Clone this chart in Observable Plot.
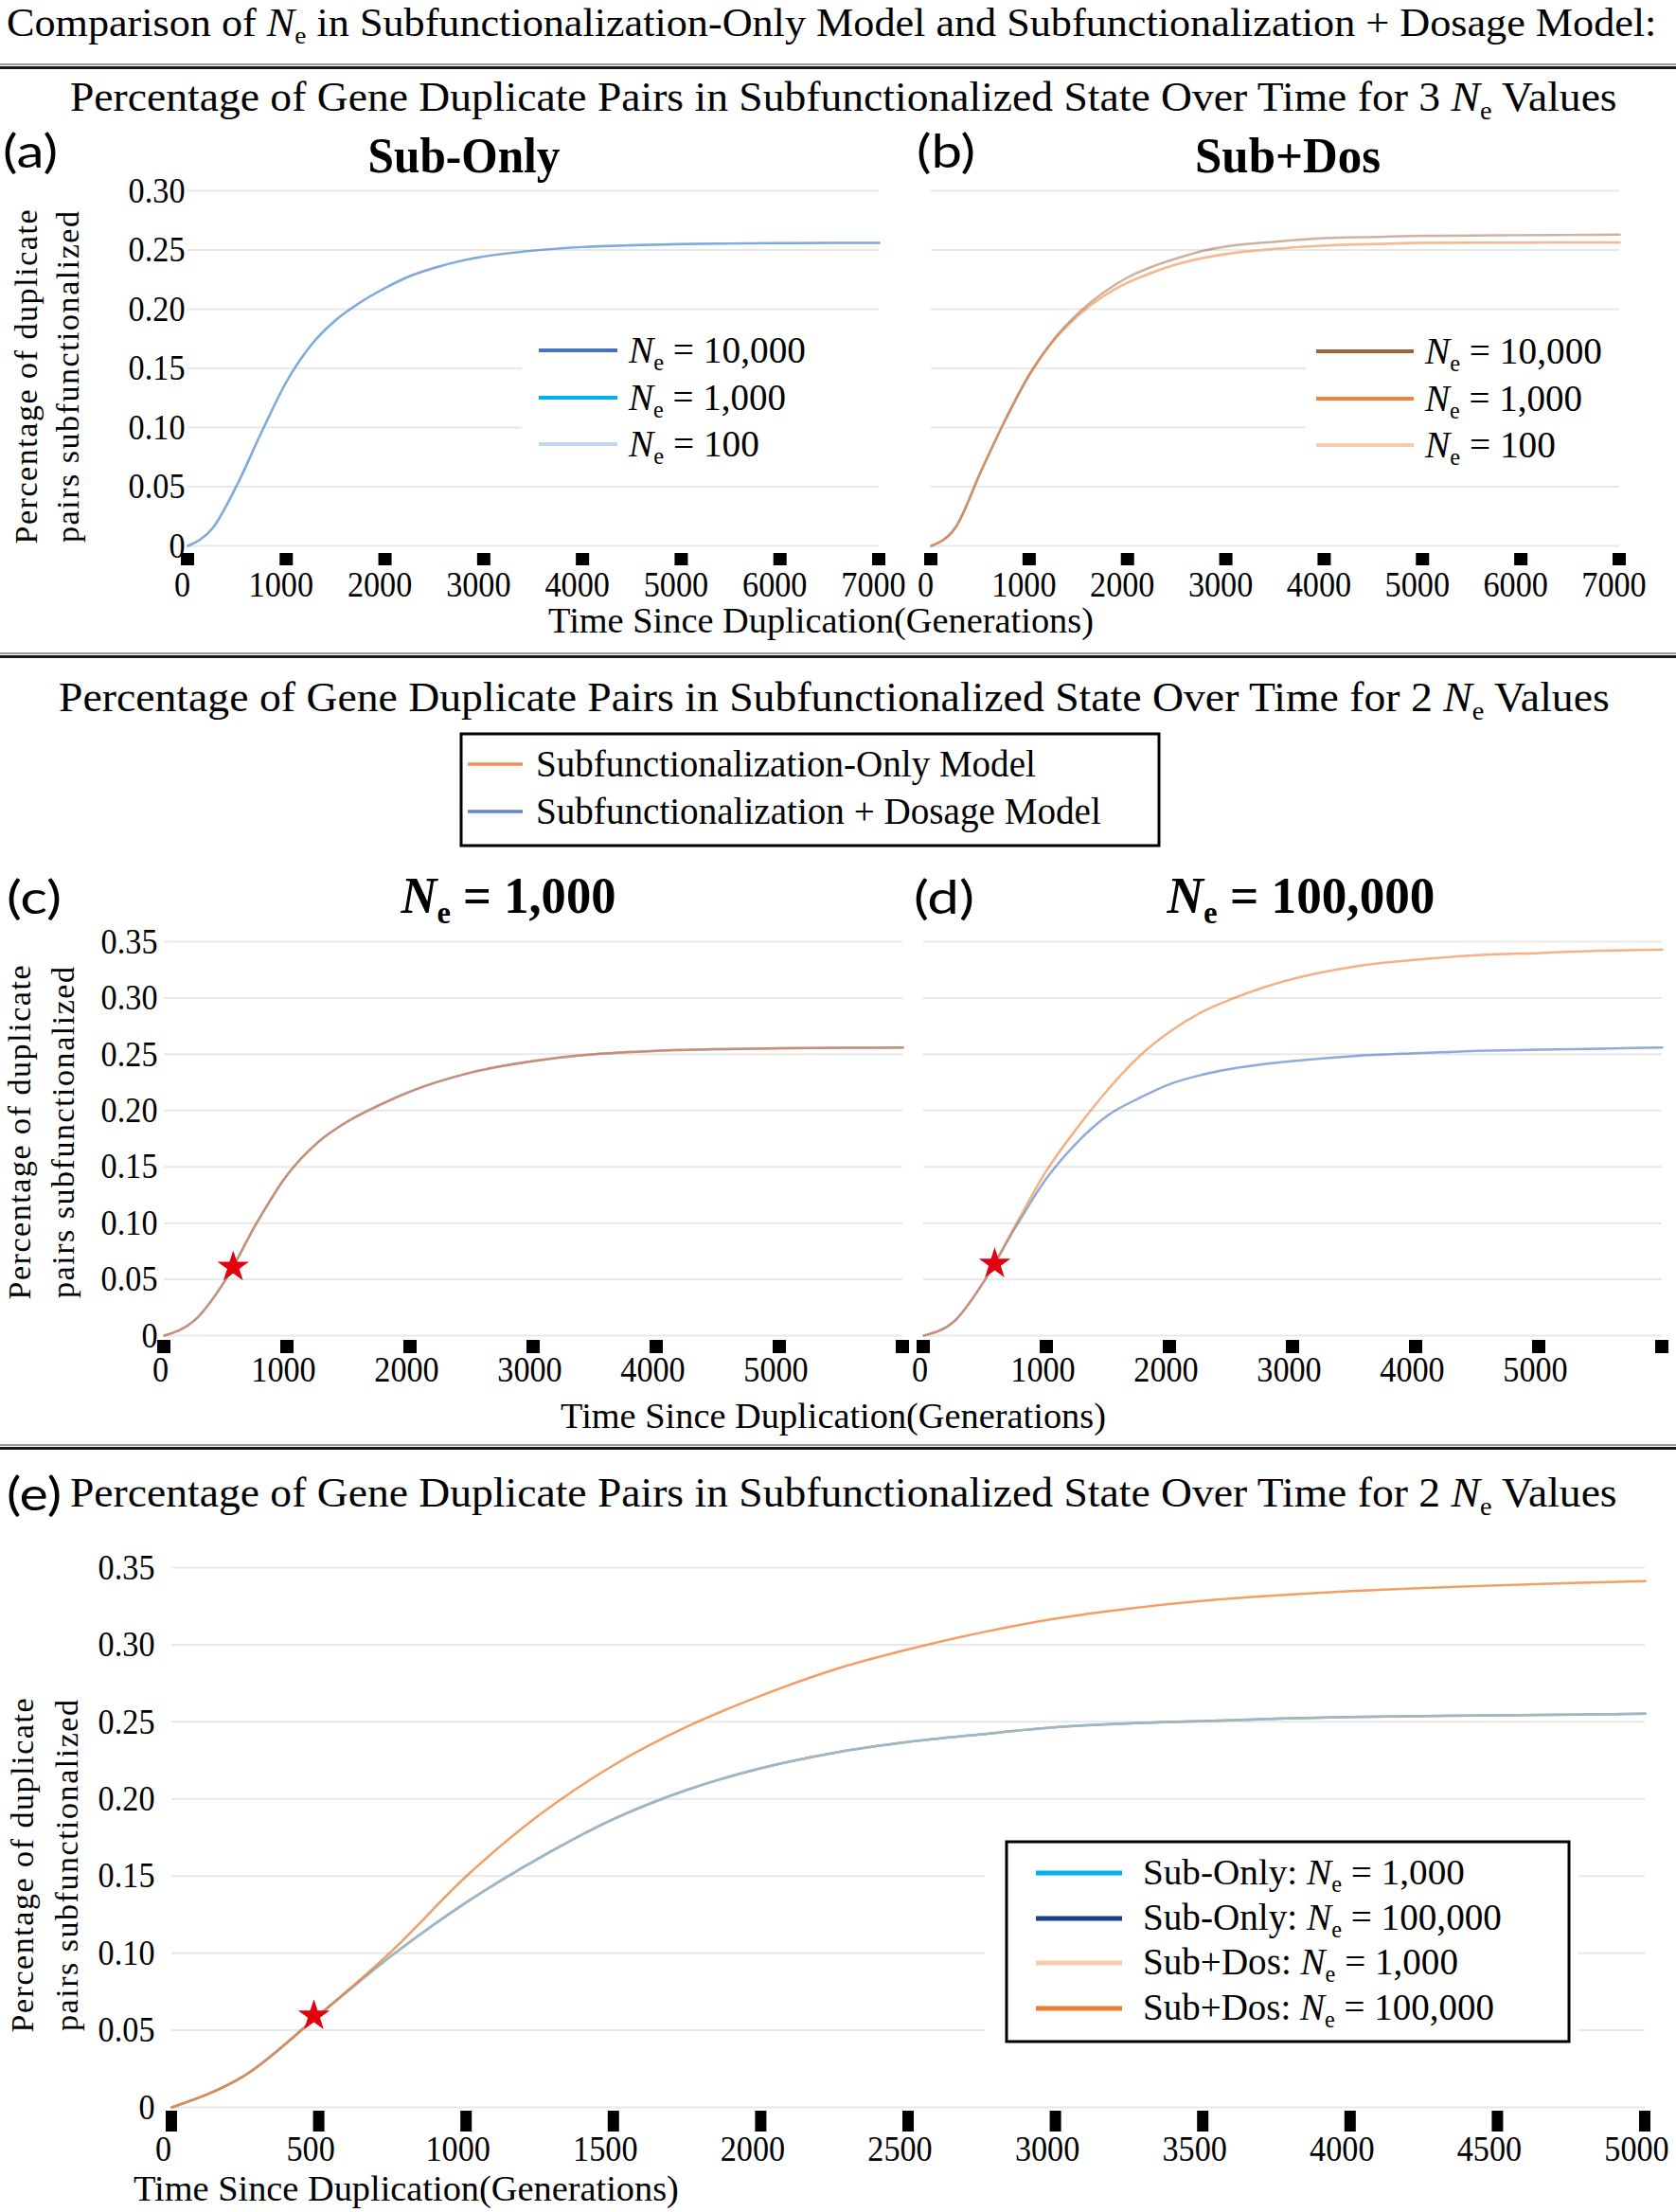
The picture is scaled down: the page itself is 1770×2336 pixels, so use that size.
<!DOCTYPE html>
<html><head><meta charset="utf-8">
<script src="https://cdn.jsdelivr.net/npm/d3@7"></script>
<script src="https://cdn.jsdelivr.net/npm/@observablehq/plot@0.6"></script>
<style>
html,body{margin:0;padding:0;background:#fff;}
#page{position:relative;width:1770px;height:2336px;overflow:hidden;background:#fff;}
.panel{position:absolute;}
.panel svg{display:block;max-width:none !important;overflow:visible;}
#overlay{position:absolute;left:0;top:0;white-space:pre;}
</style></head><body><div id="page"></div>
<script>
// ---------------- DATA ----------------
// Panel (a) Sub-Only, 3 Ne values
const tA = [0,250,500,750,1000,1250,1500,1750,2000,2250,2500,2750,3000,3500,4000,4500,5000,5500,6000,6500,7000];
const aNe10000 = [0,0.015,0.052,0.097,0.139,0.170,0.191,0.206,0.218,0.228,0.235,0.2405,0.2445,0.2495,0.2525,0.254,0.255,0.2555,0.2558,0.256,0.256];
const aNe1000  = [0,0.015,0.052,0.097,0.139,0.170,0.191,0.206,0.218,0.228,0.235,0.2405,0.2445,0.2495,0.2525,0.254,0.255,0.2555,0.2558,0.256,0.256];
const aNe100   = [0,0.015,0.052,0.097,0.139,0.170,0.191,0.206,0.218,0.228,0.235,0.2405,0.2445,0.2495,0.2525,0.254,0.255,0.2555,0.2558,0.256,0.256];
// Panel (b) Sub+Dos, 3 Ne values
const tB = [0,250,500,750,1000,1250,1500,1750,2000,2250,2500,2750,3000,3500,4000,4500,5000,5500,6000,6500,7000];
const bNe10000 = [0,0.016,0.062,0.106,0.145,0.175,0.197,0.214,0.227,0.236,0.243,0.249,0.253,0.257,0.260,0.261,0.262,0.2622,0.2625,0.2627,0.263];
const bNe1000  = [0,0.016,0.062,0.106,0.145,0.174,0.195,0.211,0.2225,0.231,0.238,0.243,0.2466,0.251,0.2537,0.255,0.256,0.2562,0.2563,0.2564,0.2565];
const bNe100   = [0,0.016,0.062,0.106,0.145,0.174,0.195,0.211,0.2225,0.231,0.238,0.243,0.2466,0.251,0.2537,0.255,0.2558,0.256,0.2561,0.2562,0.2563];
// Panel (c) Ne = 1,000
const tC = [0,250,500,750,1000,1250,1500,1750,2000,2500,3000,3500,4000,4500,5000,5500,6000];
const cSubOnly = [0,0.014,0.050,0.100,0.143,0.172,0.191,0.205,0.217,0.234,0.244,0.250,0.253,0.2545,0.2553,0.2557,0.256];
const cSubDos  = [0,0.014,0.050,0.100,0.143,0.172,0.191,0.205,0.217,0.234,0.244,0.250,0.253,0.2545,0.2553,0.2557,0.256];
const cStar = [{t: 560, v: 0.061}];
// Panel (d) Ne = 100,000
const tD = [0,250,500,750,1000,1250,1500,1750,2000,2250,2500,2750,3000,3500,4000,4500,5000,5500,6000];
const dSubOnly = [0,0.013,0.050,0.099,0.147,0.185,0.219,0.248,0.270,0.287,0.299,0.309,0.317,0.328,0.334,0.338,0.340,0.342,0.343];
const dSubDos  = [0,0.013,0.050,0.097,0.140,0.172,0.196,0.211,0.2235,0.2315,0.237,0.241,0.244,0.2485,0.251,0.253,0.254,0.255,0.256];
const dStar = [{t: 577, v: 0.0637}];
// Panel (e) four series
const tE = [0,250,500,750,1000,1250,1500,1750,2000,2250,2500,2750,3000,3250,3500,3750,4000,4250,4500,4750,5000];
const eSubOnly1000   = [0,0.021,0.060,0.099,0.133,0.162,0.187,0.206,0.220,0.230,0.237,0.242,0.2465,0.249,0.2505,0.252,0.2532,0.2538,0.2542,0.2547,0.2553];
const eSubOnly100000 = [0,0.021,0.060,0.099,0.133,0.162,0.187,0.206,0.220,0.230,0.237,0.242,0.2465,0.249,0.2505,0.252,0.2532,0.2538,0.2542,0.2547,0.2553];
const eSubDos1000    = [0,0.021,0.060,0.099,0.133,0.162,0.187,0.206,0.220,0.230,0.237,0.242,0.2465,0.249,0.2505,0.252,0.2532,0.2538,0.2542,0.2547,0.2553];
const eSubDos100000  = [0,0.021,0.060,0.102,0.150,0.190,0.222,0.247,0.267,0.284,0.297,0.308,0.317,0.3235,0.3285,0.332,0.3348,0.3368,0.3385,0.340,0.3412];
const eStar = [{t: 482, v: 0.0594}];
// Ticks
const xTicks7000 = [0,1000,2000,3000,4000,5000,6000,7000];
const xTicks6000 = [0,1000,2000,3000,4000,5000,6000];
const xLabels6000 = [0,1000,2000,3000,4000,5000];
const xTicks5000 = [0,500,1000,1500,2000,2500,3000,3500,4000,4500,5000];
const yTicks30 = [0,0.05,0.10,0.15,0.20,0.25,0.30];
const yTicks35 = [0,0.05,0.10,0.15,0.20,0.25,0.30,0.35];
// Legend labels
const neLevelsAB = ["10,000","1,000","100"];
const modelLabels = ["Subfunctionalization-Only  Model","Subfunctionalization  + Dosage Model"];
const eLabels = [["Sub-Only:  ","1,000"],["Sub-Only:  ","100,000"],["Sub+Dos: ","1,000"],["Sub+Dos: ","100,000"]];
// Colours
const colA = ["#4472c4","#00b0f0","#bdd7ee"];
const colB = ["#9c6540","#ee8442","#f8cbad"];
const colCD = ["#ed7d31","#4472c4"];
const colE = ["#00b0f0","#1f3f88","#f8cbad","#ed7d31"];

// ---------------- DRAWING ----------------
const SERIF = "'Liberation Serif','Times New Roman',serif";
const SANS = "Lato,'Noto Sans',sans-serif";
const GRID = "#e8e8e8";
const page = document.getElementById("page");
const series = (t, v) => t.map((x, i) => ({t: x, v: v[i]}));
const plots = [];
function place(node, left, top) {
  const d = document.createElement("div");
  d.className = "panel"; d.style.left = left + "px"; d.style.top = top + "px";
  d.appendChild(node); page.appendChild(d); plots.push(node);
}
function panel(o) {
  const marks = [Plot.ruleY(o.yTicks, {stroke: GRID, strokeWidth: 2})];
  for (const l of o.lines) marks.push(Plot.line(series(o.t, l.v), {x: "t", y: "v", stroke: l.color, strokeOpacity: l.op, strokeWidth: l.w ?? 2.5, curve: "monotone-x"}));
  if (o.stars) marks.push(Plot.dot(o.stars, {x: "t", y: "v", symbol: "star", fill: "#e3000f", r: 10.5}));
  marks.push(Plot.rect(o.squares, {x1: d => d, x2: d => d, y1: () => 0, y2: () => 0,
    insetLeft: -o.sqW / 2, insetRight: -o.sqW / 2, insetTop: o.sqTop, insetBottom: -(o.sqTop + o.sqH), fill: "#000"}));
  marks.push(Plot.axisX({ticks: o.xLabels, tickSize: 0, tickPadding: o.labPad, dx: o.labDx, tickFormat: d => String(d), label: null}));
  if (o.yLabels) marks.push(Plot.axisY({ticks: o.yTicks, tickSize: 0, tickPadding: o.yPad, tickFormat: d => d === 0 ? "0" : d.toFixed(2), label: null}));
  const chart = Plot.plot({
    width: o.width, height: o.height,
    marginLeft: o.ml, marginRight: o.mr, marginTop: o.mt, marginBottom: o.mb,
    x: {domain: o.xDomain, axis: null}, y: {domain: o.yDomain, axis: null},
    style: {fontFamily: SERIF, fontSize: "38px", color: "#000", background: "transparent", overflow: "visible"},
    marks
  });
  place(chart, o.left, o.top);
}

// (a)
panel({left: 0, top: 130, width: 950, height: 520, ml: 198, mr: 22, mt: 71, mb: 74,
  xDomain: [0, 7000], yDomain: [0, 0.30], yTicks: yTicks30, yLabels: true, yPad: 3,
  squares: xTicks7000, xLabels: xTicks7000, sqW: 14, sqTop: 8, sqH: 13, labPad: 27, labDx: -6, t: tA,
  lines: [{v: aNe100, color: colA[2], op: 0.5}, {v: aNe1000, color: colA[1], op: 0.15}, {v: aNe10000, color: colA[0], op: 0.5}]});
// (b)
panel({left: 960, top: 130, width: 790, height: 520, ml: 23, mr: 40, mt: 71, mb: 74,
  xDomain: [0, 7000], yDomain: [0, 0.30], yTicks: yTicks30, yLabels: false,
  squares: xTicks7000, xLabels: xTicks7000, sqW: 14, sqTop: 8, sqH: 13, labPad: 27, labDx: -6, t: tB,
  lines: [{v: bNe1000, color: colB[1], op: 0.7}, {v: bNe100, color: colB[2], op: 0.5}, {v: bNe10000, color: colB[0], op: 0.5}]});
// (c)
panel({left: 0, top: 960, width: 980, height: 520, ml: 173, mr: 27, mt: 34, mb: 70,
  xDomain: [0, 6000], yDomain: [0, 0.35], yTicks: yTicks35, yLabels: true, yPad: 7,
  squares: xTicks6000, xLabels: xLabels6000, sqW: 14, sqTop: 5, sqH: 14, labPad: 22, labDx: -4, t: tC, stars: cStar,
  lines: [{v: cSubDos, color: colCD[1], op: 0.6}, {v: cSubOnly, color: colCD[0], op: 0.6}]});
// (d)
panel({left: 960, top: 960, width: 810, height: 520, ml: 15, mr: 15, mt: 34, mb: 70,
  xDomain: [0, 6000], yDomain: [0, 0.35], yTicks: yTicks35, yLabels: false,
  squares: xTicks6000, xLabels: xLabels6000, sqW: 14, sqTop: 5, sqH: 14, labPad: 22, labDx: -4, t: tD, stars: dStar,
  lines: [{v: dSubDos, color: colCD[1], op: 0.6}, {v: dSubOnly, color: colCD[0], op: 0.6}]});
// (e)
panel({left: 0, top: 1620, width: 1770, height: 680, ml: 181, mr: 33, mt: 35, mb: 75,
  xDomain: [0, 5000], yDomain: [0, 0.35], yTicks: yTicks35, yLabels: true, yPad: 18,
  squares: xTicks5000, xLabels: xTicks5000, sqW: 12, sqTop: 4, sqH: 22, labPad: 30, labDx: -9, t: tE, stars: eStar,
  lines: [{v: eSubOnly100000, color: colE[1], op: 0.55}, {v: eSubOnly1000, color: colE[0], op: 0.4},
          {v: eSubDos1000, color: colE[2], op: 0.5}, {v: eSubDos100000, color: colE[3], op: 0.75}]});

// ---------------- TEXT OVERLAY ----------------
function ne(s, after) {
  return `<tspan font-style="italic">N</tspan><tspan font-size="${(s * 0.62).toFixed(1)}" dy="${(s * 0.2).toFixed(1)}">e</tspan><tspan dy="${(-s * 0.2).toFixed(1)}">${after}</tspan>`;
}
let o = "";
// texts with a target width are squeezed with a horizontal scale (as the reference's narrow Times)
function T(x, y, content, a = {}) {
  const size = a.size ?? 36;
  o += `<text x="${x}" y="${y}" font-size="${size}" font-family="${a.family ?? SERIF}" font-weight="${a.weight ?? "normal"}" text-anchor="${a.anchor ?? "start"}"${a.len ? ` data-len="${a.len}" data-x="${x}"` : ""}>${content}</text>`;
}
function ylab(bx1, bx2, cy) {
  o += `<text transform="translate(${bx1},${cy}) rotate(-90)" text-anchor="middle" font-size="34" font-family="${SERIF}" textLength="353" lengthAdjust="spacing">Percentage  of  duplicate</text>`;
  o += `<text transform="translate(${bx2},${cy}) rotate(-90)" text-anchor="middle" font-size="34" font-family="${SERIF}" textLength="350" lengthAdjust="spacing">pairs subfunctionalized</text>`;
}
function rule(y) {
  o += `<rect x="0" y="${y - 3}" width="1770" height="2" fill="#9a9a9a"/><rect x="0" y="${y}" width="1770" height="3" fill="#1a1a1a"/>`;
}
// top title
T(7, 38, "Comparison of " + ne(42, " in Subfunctionalization-Only  Model and Subfunctionalization  + Dosage Model:"), {size: 42, len: 1743});
rule(70);
T(74, 117, "Percentage of Gene Duplicate Pairs in Subfunctionalized  State Over Time for 3 " + ne(44, " Values"), {size: 44, len: 1634});
T(3, 177, "(a)", {size: 48, family: SANS, len: 58});
T(968, 177, "(b)", {size: 48, family: SANS, len: 62});
T(490, 182, "Sub-Only", {size: 52, weight: "bold", anchor: "middle", len: 203});
T(1360, 182, "Sub+Dos", {size: 52, weight: "bold", anchor: "middle", len: 196});
ylab(39, 83, 398);
T(867, 668, "Time  Since  Duplication(Generations)", {size: 38, anchor: "middle", len: 576});
// legend (a)
o += `<rect x="551" y="336" width="384" height="164" fill="#fff"/>`;
[370, 420, 469].forEach((y, i) => {
  o += `<line x1="569" x2="652" y1="${y}" y2="${y}" stroke="${colA[i]}" stroke-width="4"/>`;
  T(664, y + 13, ne(41, " = " + neLevelsAB[i]), {size: 41, len: [187, 166, 138][i]});
});
// legend (b)
o += `<rect x="1379" y="336" width="335" height="164" fill="#fff"/>`;
[371, 421, 470].forEach((y, i) => {
  o += `<line x1="1390" x2="1493" y1="${y}" y2="${y}" stroke="${colB[i]}" stroke-width="4"/>`;
  T(1505, y + 13, ne(41, " = " + neLevelsAB[i]), {size: 41, len: [187, 166, 138][i]});
});
rule(692);
T(62, 751, "Percentage of Gene Duplicate Pairs in Subfunctionalized  State Over Time for 2 " + ne(44, " Values"), {size: 44, len: 1638});
// middle legend
o += `<rect x="487" y="775" width="737" height="118" fill="#fff" stroke="#000" stroke-width="3"/>`;
[807, 857].forEach((y, i) => {
  o += `<line x1="494" x2="552" y1="${y}" y2="${y}" stroke="${colCD[i]}" stroke-width="3.5" stroke-opacity="0.85"/>`;
  T(566, y + 13, modelLabels[i], {size: 41, len: i === 0 ? 528 : 597});
});
T(7, 965, "(c)", {size: 48, family: SANS, len: 58});
T(965, 965, "(d)", {size: 48, family: SANS, len: 64});
T(537, 964, ne(54, " = 1,000"), {size: 54, weight: "bold", anchor: "middle", len: 227});
T(1374, 964, ne(54, " = 100,000"), {size: 54, weight: "bold", anchor: "middle", len: 283});
ylab(32, 78, 1196);
T(880, 1508, "Time  Since  Duplication(Generations)", {size: 38, anchor: "middle", len: 576});
rule(1528);
// (e)
T(7, 1595, "(e)", {size: 48, family: SANS, len: 58});
T(74, 1591, "Percentage of Gene Duplicate Pairs in Subfunctionalized  State Over Time for 2 " + ne(44, " Values"), {size: 44, len: 1634});
ylab(35, 82, 1970);
T(141, 2324, "Time  Since  Duplication(Generations)", {size: 38, len: 576});
o += `<rect x="1040" y="1935" width="626" height="232" fill="#fff"/>`;
o += `<rect x="1063" y="1945" width="594" height="211" fill="#fff" stroke="#000" stroke-width="3"/>`;
[1978, 2026, 2073, 2121].forEach((y, i) => {
  o += `<line x1="1094" x2="1185" y1="${y}" y2="${y}" stroke="${colE[i]}" stroke-width="5"/>`;
  T(1207, y + 12, eLabels[i][0] + ne(39, " = " + eLabels[i][1]), {size: 39, len: [340, 379, 333, 371][i]});
});

const svg = document.createElementNS("http://www.w3.org/2000/svg", "svg");
svg.setAttribute("id", "overlay");
svg.setAttribute("width", 1770); svg.setAttribute("height", 2336);
svg.setAttribute("viewBox", "0 0 1770 2336");
svg.innerHTML = o;
page.appendChild(svg);

// horizontal squeeze of overlay texts to their measured widths in the reference
svg.querySelectorAll("text[data-len]").forEach(t => {
  const L = t.getComputedTextLength();
  const k = +t.getAttribute("data-len") / L;
  const x = +t.getAttribute("data-x");
  if (L > 0) t.setAttribute("transform", `translate(${x},0) scale(${k.toFixed(4)},1) translate(${-x},0)`);
});
// condense the Times tick labels horizontally, as in the reference
for (const p of plots) {
  p.querySelectorAll("text").forEach(t => {
    const L = t.getComputedTextLength();
    if (L > 0) { t.setAttribute("textLength", (L * 0.9).toFixed(1)); t.setAttribute("lengthAdjust", "spacingAndGlyphs"); }
  });
}
</script></body></html>
